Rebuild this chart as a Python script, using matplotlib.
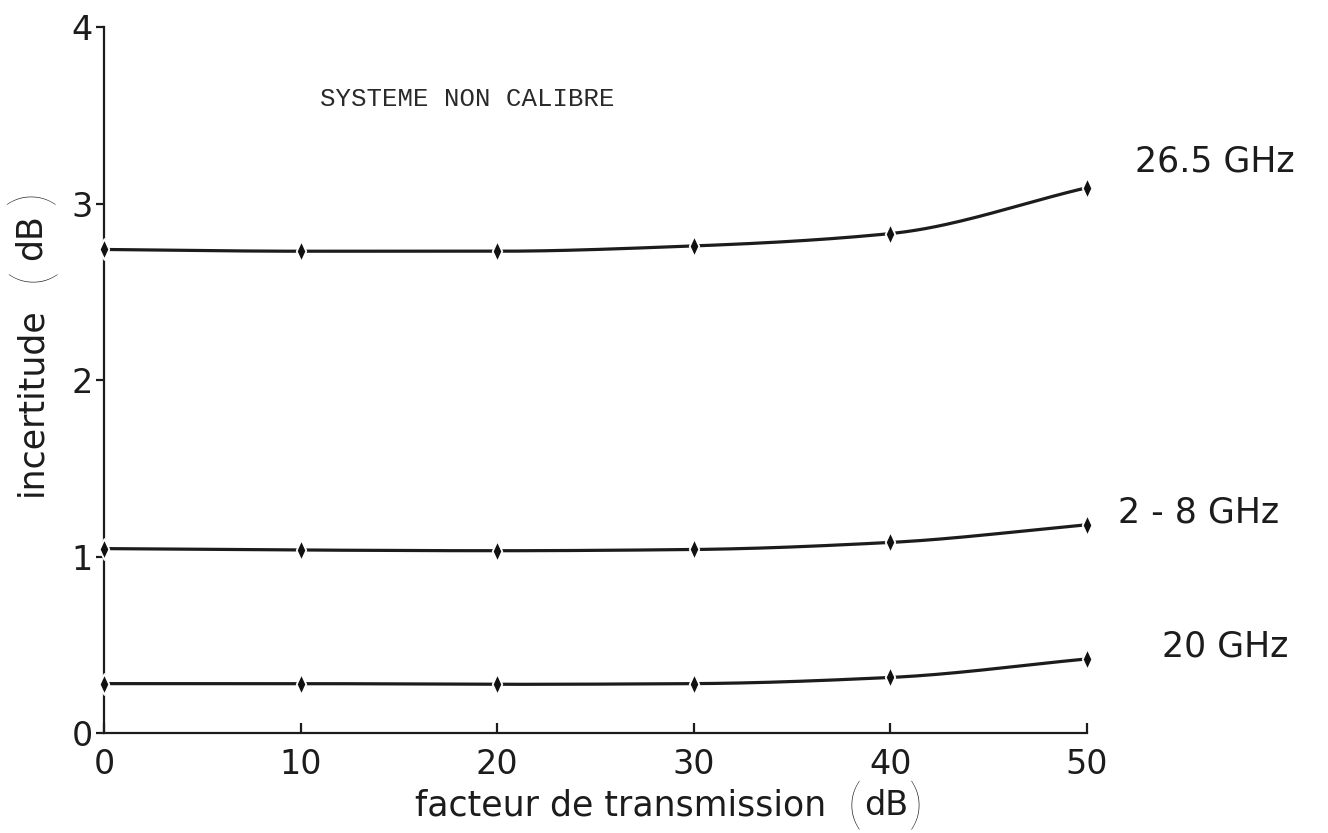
import numpy as np
import matplotlib
matplotlib.use("Agg")
import matplotlib.pyplot as plt
from matplotlib.path import Path

# transmission factor (dB) and measured uncertainty (dB) per band
x_db = [0, 10, 20, 30, 40, 50]
u_265 = [2.74, 2.73, 2.73, 2.76, 2.83, 3.09]
u_2_8 = [1.045, 1.037, 1.033, 1.04, 1.08, 1.18]
u_20 = [0.28, 0.28, 0.276, 0.28, 0.315, 0.42]

bands = ["26.5 GHz", "2 - 8 GHz", "20 GHz"]
xticks = [0, 10, 20, 30, 40, 50]
yticks = [0, 1, 2, 3, 4]

plt.rcParams['font.family'] = ['DejaVu Sans']
INK = "#1c1c1c"


def pchip(xs, ys, n=40):
    # shape-preserving cubic through the points (Fritsch-Carlson slopes)
    xs = np.asarray(xs, float)
    ys = np.asarray(ys, float)
    h = np.diff(xs)
    d = np.diff(ys) / h
    m = np.zeros_like(ys)
    for k in range(1, len(xs) - 1):
        if d[k - 1] * d[k] > 0:
            w1 = 2 * h[k] + h[k - 1]
            w2 = h[k] + 2 * h[k - 1]
            m[k] = (w1 + w2) / (w1 / d[k - 1] + w2 / d[k])
    m[0] = d[0]
    m[-1] = d[-1]
    outx, outy = [], []
    for k in range(len(xs) - 1):
        t = np.linspace(0, 1, n)
        h00 = 2 * t**3 - 3 * t**2 + 1
        h10 = t**3 - 2 * t**2 + t
        h01 = -2 * t**3 + 3 * t**2
        h11 = t**3 - t**2
        outx.append(xs[k] + t * h[k])
        outy.append(h00 * ys[k] + h10 * h[k] * m[k] + h01 * ys[k + 1] + h11 * h[k] * m[k + 1])
    return np.concatenate(outx), np.concatenate(outy)


# narrow diamond marker
diamond = Path([(0, 1), (0.46, 0), (0, -1), (-0.46, 0), (0, 1)],
               [Path.MOVETO, Path.LINETO, Path.LINETO, Path.LINETO, Path.CLOSEPOLY])

fig = plt.figure(figsize=(13.28, 8.33), dpi=100)
AX_L, AX_W = 0.0783, 0.7402
ax = fig.add_axes([AX_L, 0.12, AX_W, 0.8475])

for ys in (u_265, u_2_8, u_20):
    sx, sy = pchip(x_db, ys)
    ax.plot(sx, sy, color=INK, lw=2.3, solid_capstyle="butt")
    ax.plot(x_db, ys, ls="none", marker=diamond, ms=15, color="#111111",
            mec="white", mew=1.3, clip_on=False, zorder=3)

ax.set_xlim(0, 50)
ax.set_ylim(0, 4)
ax.set_xticks(xticks)
ax.set_yticks(yticks)
ax.spines["top"].set_visible(False)
ax.spines["right"].set_visible(False)
for s in ("left", "bottom"):
    ax.spines[s].set_linewidth(1.6)
    ax.spines[s].set_color(INK)
ax.tick_params(axis="x", direction="in", length=7, width=1.6, pad=11,
               labelsize=24, colors=INK)
ax.tick_params(axis="y", direction="out", length=6, width=1.6, pad=2,
               labelsize=24, colors=INK)

# band labels on the right (x given in figure pixels)
label_y = [3.24, 1.25, 0.49]
label_px = [1135, 1118, 1162]
for name, ly, px in zip(bands, label_y, label_px):
    ax.text((px / 1328 - AX_L) / AX_W, ly, name,
            transform=ax.get_yaxis_transform(),
            fontsize=25, ha="left", va="center", color=INK)

ax.text(0.2197, 3.59, "SYSTEME NON CALIBRE",
        transform=ax.get_yaxis_transform(), family="Liberation Mono",
        fontsize=18.5, ha="left", va="center", color="#2a2a2a")

# axis titles with tall thin brackets
fig.text(0.3125, 0.0216, "facteur de transmission", fontsize=25, ha="left",
         va="baseline", color=INK)
fig.text(0.6385, 0.012, "(", family="Lato", fontweight="light", fontsize=40,
         ha="left", va="baseline", color=INK)
fig.text(0.6506, 0.0216, "dB", fontsize=24, ha="left", va="baseline",
         color=INK)
fig.text(0.6845, 0.012, ")", family="Lato", fontweight="light", fontsize=40,
         ha="left", va="baseline", color=INK)

fig.text(0.0233, 0.5174, "incertitude", fontsize=25, rotation=90,
         ha="center", va="center", color=INK)
fig.text(0.025, 0.670, "(", family="Lato", fontweight="light", fontsize=40,
         rotation=90, ha="center", va="center", color=INK)
fig.text(0.0233, 0.716, "dB", fontsize=25, rotation=90, ha="center",
         va="center", color=INK)
fig.text(0.025, 0.764, ")", family="Lato", fontweight="light", fontsize=40,
         rotation=90, ha="center", va="center", color=INK)

fig.savefig("out.png", dpi=100)
